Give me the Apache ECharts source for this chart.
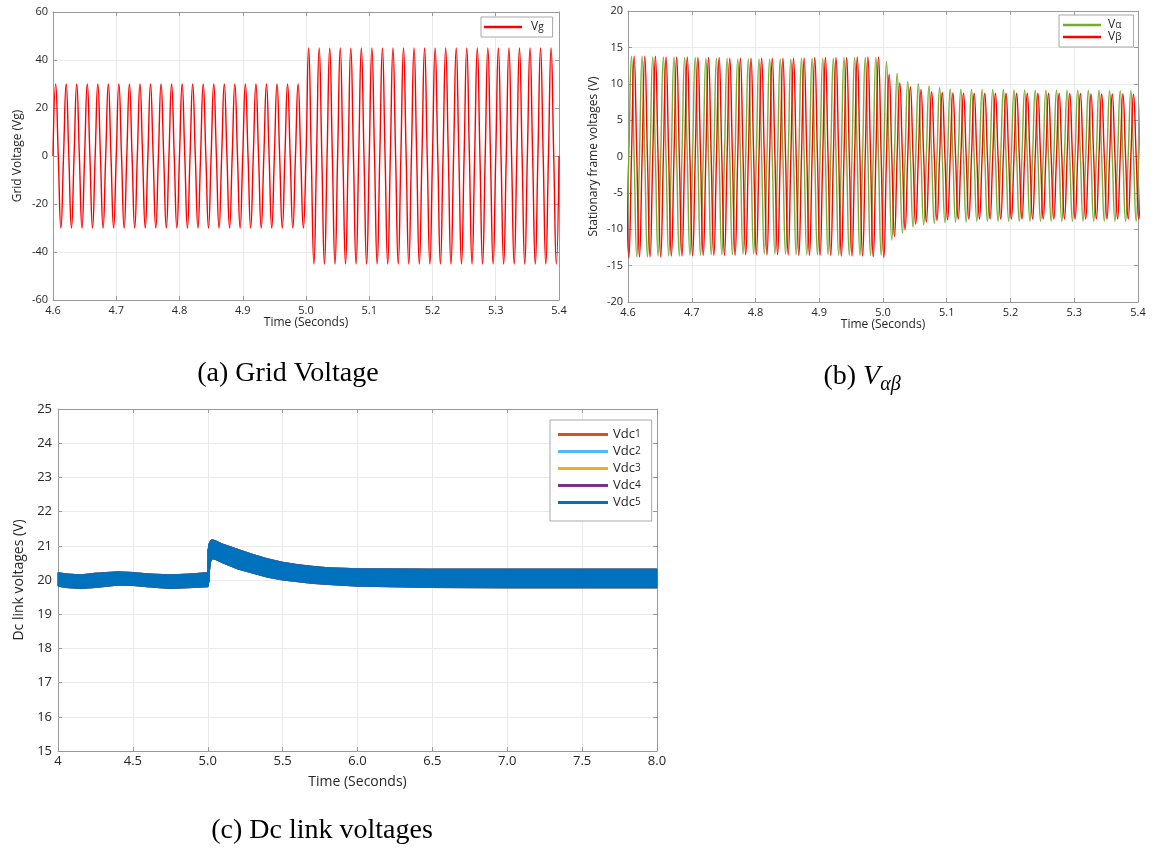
<!DOCTYPE html>
<html>
<head>
<meta charset="utf-8">
<script src="https://cdn.jsdelivr.net/npm/echarts@6/dist/echarts.min.js"></script>
<style>
html,body{margin:0;padding:0;background:#fff;}
#c{width:1155px;height:852px;}
</style>
</head>
<body>
<div id="c"></div>
<script>
// ---------- shared ----------
const GRID_FREQ = 60;           // Hz (period)
const T = 1 / GRID_FREQ;

// ---------- (a) Grid voltage : peak / trough of each cycle ----------
const vgStart = 4.6;
const vgPeaks = [30,30,30,30,30,30,30,30,30,30,30,30,30,30,30,30,30,30,30,30,30,30,30,30,
                 45,45,45,45,45,45,45,45,45,45,45,45,45,45,45,45,45,45,45,45,45,45,45,45];
const vgTroughs = [-30,-30,-30,-30,-30,-30,-30,-30,-30,-30,-30,-30,-30,-30,-30,-30,-30,-30,-30,-30,-30,-30,-30,-30,
                   -45,-45,-45,-45,-45,-45,-45,-45,-45,-45,-45,-45,-45,-45,-45,-45,-45,-45,-45,-45,-45,-45,-45,-45];

// ---------- (b) V alpha / V beta : per cycle extremes ----------
const abFirstPeak = 4.5888;     // time of first alpha peak (cycle k=-1)
const alphaPeaks = [13.8,
  13.8,13.8,13.7,13.7,13.7,13.6,13.6,13.5,13.5,13.5,13.4,13.4,13.4,13.4,13.4,13.4,13.5,13.5,13.5,13.5,13.6,13.6,13.6,13.6,
  13.1,11.4,10.3,10.0,9.7,9.45,9.3,9.25,9.2,9.2,9.2,9.2,9.15,9.15,9.1,9.1,9.1,9.1,9.1,9.1,9.1,9.05,9.05,9.05,9.0];
const alphaTroughs = [-13.8,
  -13.8,-13.8,-13.7,-13.7,-13.7,-13.6,-13.6,-13.5,-13.5,-13.5,-13.4,-13.4,-13.4,-13.4,-13.4,-13.5,-13.5,-13.5,-13.5,-13.6,-13.6,-13.6,-13.6,
  -13.6,
  -11.5,-10.5,-9.7,-9.4,-9.2,-9.1,-9.0,-9.0,-8.9,-8.9,-8.9,-8.9,-8.9,-8.9,-8.9,-8.9,-8.9,-8.9,-8.9,-8.9,-8.9,-8.9,-8.9,-8.9,-8.9];
const betaPeaks = [13.8,
  13.8,13.8,13.8,13.7,13.7,13.7,13.6,13.6,13.6,13.5,13.5,13.5,13.5,13.5,13.5,13.5,13.5,13.6,13.6,13.6,13.6,13.7,13.7,13.7,
  11.3,10.1,9.6,9.2,8.9,8.8,8.75,8.7,8.7,8.7,8.7,8.7,8.7,8.7,8.7,8.7,8.7,8.65,8.65,8.6,8.6,8.6,8.6,8.55,8.5];
const betaTroughs = [-13.8,
  -13.9,-13.8,-13.8,-13.8,-13.7,-13.7,-13.7,-13.6,-13.6,-13.6,-13.6,-13.5,-13.5,-13.5,-13.5,-13.5,-13.6,-13.6,-13.6,-13.6,-13.7,-13.7,-13.7,-13.8,-13.9,
  -11.0,-10.1,-9.3,-9.0,-8.8,-8.7,-8.6,-8.6,-8.6,-8.6,-8.6,-8.6,-8.6,-8.6,-8.6,-8.6,-8.6,-8.6,-8.6,-8.6,-8.6,-8.6,-8.6,-8.6];

// ---------- (c) DC link voltages : ripple band envelope ----------
const dcTime  = [4.0, 4.05, 4.15, 4.25, 4.4, 4.5, 4.6, 4.75, 4.9, 5.0, 5.003, 5.008, 5.012, 5.02, 5.03, 5.05, 5.1, 5.2, 5.3, 5.4, 5.5, 5.6, 5.7, 5.8, 6.0, 6.5, 7.0, 7.5, 8.0];
const dcUpper = [20.22,20.18,20.15,20.2,20.24,20.22,20.18,20.15,20.18,20.22,20.9,21.05,21.1,21.15,21.18,21.15,21.05,20.9,20.75,20.62,20.52,20.45,20.4,20.36,20.33,20.32,20.32,20.32,20.32];
const dcLower = [19.82,19.78,19.75,19.78,19.85,19.84,19.8,19.75,19.78,19.8,19.85,19.95,20.3,20.55,20.62,20.6,20.5,20.32,20.2,20.08,20.0,19.95,19.9,19.87,19.82,19.78,19.77,19.77,19.77];
const dcNames  = ['Vdc1','Vdc2','Vdc3','Vdc4','Vdc5'];
const dcColors = ['#D95319','#4DBEEE','#EDB120','#7E2F8E','#0072BD'];

// ---------- tick labels ----------
const axA = {xMin:4.6, xMax:5.4, xInt:0.1, yMin:-60, yMax:60, yInt:20};
const axB = {xMin:4.6, xMax:5.4, xInt:0.1, yMin:-20, yMax:20, yInt:5};
const axC = {xMin:4, xMax:8, xInt:0.5, yMin:15, yMax:25, yInt:1};

// ---------- build series data ----------
function buildVg(){
  const pts = [];
  for (let k = 0; k < vgPeaks.length; k++){
    const t0 = vgStart + k*T;
    pts.push([t0, 0], [t0 + T/4, vgPeaks[k]], [t0 + T/2, 0], [t0 + 3*T/4, vgTroughs[k]]);
  }
  pts.push([vgStart + vgPeaks.length*T, 0]);
  return pts;
}
function buildAB(){
  const a = [], b = [];
  for (let k = 0; k < alphaPeaks.length; k++){
    const tp = abFirstPeak + k*T;
    a.push([tp - T/4, 0], [tp, alphaPeaks[k]], [tp + T/4, 0], [tp + T/2, alphaTroughs[k]]);
    b.push([tp - T/4, betaTroughs[k]], [tp, 0], [tp + T/4, betaPeaks[k]], [tp + T/2, 0]);
  }
  return {a, b};
}
const ab = buildAB();
const dcData = dcTime.map((t,i) => [t, dcLower[i], dcUpper[i]]);

// ---------- styling ----------
const FONT = '"Open Sans", "DejaVu Sans", sans-serif';
const axisCol = '#9a9a9a', labelCol = '#262626', gridCol = '#ebebeb';
const fmt1 = v => v.toFixed(1);

function xPair(gi, ax, o){
  return [
    {type:'value', gridIndex:gi, min:ax.xMin, max:ax.xMax, interval:ax.xInt, position:'bottom',
     name:'Time (Seconds)', nameLocation:'middle', nameGap:o.nameGap,
     nameTextStyle:{color:labelCol, fontFamily:FONT, fontSize:o.nameFs},
     axisLine:{show:true, onZero:false, lineStyle:{color:axisCol, width:1}},
     axisTick:{show:true, inside:true, length:4, lineStyle:{color:axisCol}},
     axisLabel:{color:labelCol, fontFamily:FONT, fontSize:o.fs, margin:o.lm, formatter:o.fmt, showMinLabel:true, showMaxLabel:true},
     splitLine:{show:true, lineStyle:{color:gridCol, width:1}}},
    {type:'value', gridIndex:gi, min:ax.xMin, max:ax.xMax, interval:ax.xInt, position:'top',
     axisLine:{show:true, onZero:false, lineStyle:{color:axisCol, width:1}},
     axisTick:{show:true, inside:true, length:4, lineStyle:{color:axisCol}},
     axisLabel:{show:false}, splitLine:{show:false}}
  ];
}
function yPair(gi, ax, o){
  return [
    {type:'value', gridIndex:gi, min:ax.yMin, max:ax.yMax, interval:ax.yInt, position:'left',
     name:o.name, nameLocation:'middle', nameGap:o.nameGap, nameRotate:90,
     nameTextStyle:{color:labelCol, fontFamily:FONT, fontSize:o.nameFs},
     axisLine:{show:true, onZero:false, lineStyle:{color:axisCol, width:1}},
     axisTick:{show:true, inside:true, length:4, lineStyle:{color:axisCol}},
     axisLabel:{color:labelCol, fontFamily:FONT, fontSize:o.fs, margin:o.lm, showMinLabel:true, showMaxLabel:true},
     splitLine:{show:true, lineStyle:{color:gridCol, width:1}}},
    {type:'value', gridIndex:gi, min:ax.yMin, max:ax.yMax, interval:ax.yInt, position:'right',
     axisLine:{show:true, onZero:false, lineStyle:{color:axisCol, width:1}},
     axisTick:{show:true, inside:true, length:4, lineStyle:{color:axisCol}},
     axisLabel:{show:false}, splitLine:{show:false}}
  ];
}

const xAxes = [].concat(
  xPair(0, axA, {nameGap:16, nameFs:12, fs:11, lm:5, fmt:fmt1}),
  xPair(1, axB, {nameGap:16, nameFs:12, fs:11, lm:5, fmt:fmt1}),
  xPair(2, axC, {nameGap:24, nameFs:14, fs:13, lm:4, fmt: v => (v === 4 ? '4' : v.toFixed(1))})
);
const yAxes = [].concat(
  yPair(0, axA, {name:'Grid Voltage (Vg)', nameGap:29, nameFs:12, fs:11, lm:5}),
  yPair(1, axB, {name:'Stationary frame voltages (V)', nameGap:28, nameFs:12, fs:11, lm:5}),
  yPair(2, axC, {name:'Dc link voltages (V)', nameGap:32, nameFs:14, fs:13, lm:6})
);

// band between lower and upper envelope, segment by segment, through the axes' scales
function bandRenderer(color){
  return function(params, api){
    const i = params.dataIndex;
    if (i >= dcTime.length - 1) return null;
    const p0 = api.coord([dcTime[i],   dcUpper[i]]);
    const p1 = api.coord([dcTime[i+1], dcUpper[i+1]]);
    const p2 = api.coord([dcTime[i+1], dcLower[i+1]]);
    const p3 = api.coord([dcTime[i],   dcLower[i]]);
    return {type:'polygon', shape:{points:[p0, p1, p2, p3]},
            style:{fill:color, stroke:color, lineWidth:0.8}};
  };
}

const series = [
  {name:'Vg', type:'line', xAxisIndex:0, yAxisIndex:0, data:buildVg(), smooth:0.5, symbol:'none',
   itemStyle:{color:'#FF0000'}, lineStyle:{color:'#FF0000', width:1.4}},
  {name:'Vα', type:'line', xAxisIndex:2, yAxisIndex:2, data:ab.a, smooth:0.5, symbol:'none',
   itemStyle:{color:'#77AC30'}, lineStyle:{color:'#77AC30', width:1.4}},
  {name:'Vβ', type:'line', xAxisIndex:2, yAxisIndex:2, data:ab.b, smooth:0.5, symbol:'none',
   itemStyle:{color:'#FF0000'}, lineStyle:{color:'#FF0000', width:1.4}}
];
dcNames.forEach((nm, i) => {
  series.push({name:nm, type:'custom', xAxisIndex:4, yAxisIndex:4, data:dcData,
    encode:{x:0, y:[1,2]}, renderItem:bandRenderer(dcColors[i]),
    itemStyle:{color:dcColors[i]}, z:2 + i});
});

const legendBase = {backgroundColor:'#fff', borderColor:'#a8a8a8', borderWidth:1, icon:'rect',
  selectedMode:false, orient:'vertical', itemGap:0, z:20};

const option = {
  animation:false,
  backgroundColor:'#fff',
  grid:[
    {left:53, top:12, width:506, height:288},
    {left:628, top:11, width:510, height:291},
    {left:58, top:409, width:599, height:342}
  ],
  xAxis:xAxes,
  yAxis:yAxes,
  legend:[
    Object.assign({}, legendBase, {data:['Vg'], left:481, top:17, itemWidth:38, itemHeight:2.5,
      padding:[3, 9, 3, 3],
      formatter: n => '{a|V}{b|g}',
      textStyle:{color:labelCol, fontFamily:FONT, lineHeight:14,
        rich:{a:{fontSize:12, fontFamily:FONT, padding:[0,0,0,4]}, b:{fontSize:10, fontFamily:FONT}}}}),
    Object.assign({}, legendBase, {data:['Vα','Vβ'], left:1059, top:15, itemWidth:38, itemHeight:2.5,
      padding:[4, 12, 4, 4],
      formatter: n => '{a|V}{b|' + n.slice(1) + '}',
      textStyle:{color:labelCol, fontFamily:FONT, lineHeight:11,
        rich:{a:{fontSize:12, fontFamily:FONT, lineHeight:11, padding:[0,0,0,2]}, b:{fontSize:10, fontFamily:FONT, lineHeight:11}}}}),
    Object.assign({}, legendBase, {data:dcNames, left:550, top:420, itemWidth:50, itemHeight:3,
      padding:[6, 11, 10, 8],
      formatter: n => '{a|Vdc}{b|' + n.slice(3) + '}',
      textStyle:{color:labelCol, fontFamily:FONT, lineHeight:17,
        rich:{a:{fontSize:13, fontFamily:FONT, lineHeight:17}, b:{fontSize:10, fontFamily:FONT, lineHeight:17}}}})
  ],
  graphic:[
    {type:'text', x:288, y:374, style:{text:'(a) Grid Voltage', fill:'#000',
      font:'28px "Liberation Serif", "DejaVu Serif", serif', align:'center', verticalAlign:'middle'}},
    {type:'text', x:862, y:377, style:{text:'{n|(b) }{v|V}{s|αβ}', fill:'#000', align:'center', verticalAlign:'middle',
      rich:{n:{fontSize:28, fontFamily:'"Liberation Serif", serif', lineHeight:30, verticalAlign:'middle'},
            v:{fontSize:28, fontFamily:'"Liberation Serif", serif', fontStyle:'italic', lineHeight:30, verticalAlign:'middle'},
            s:{fontSize:20, fontFamily:'"Liberation Serif", serif', fontStyle:'italic', lineHeight:36, verticalAlign:'bottom'}}}},
    {type:'text', x:322, y:831, style:{text:'(c) Dc link voltages', fill:'#000',
      font:'28px "Liberation Serif", "DejaVu Serif", serif', align:'center', verticalAlign:'middle'}}
  ],
  series:series
};

const chart = echarts.init(document.getElementById('c'), null, {renderer:'canvas'});
chart.setOption(option);
</script>
</body>
</html>
